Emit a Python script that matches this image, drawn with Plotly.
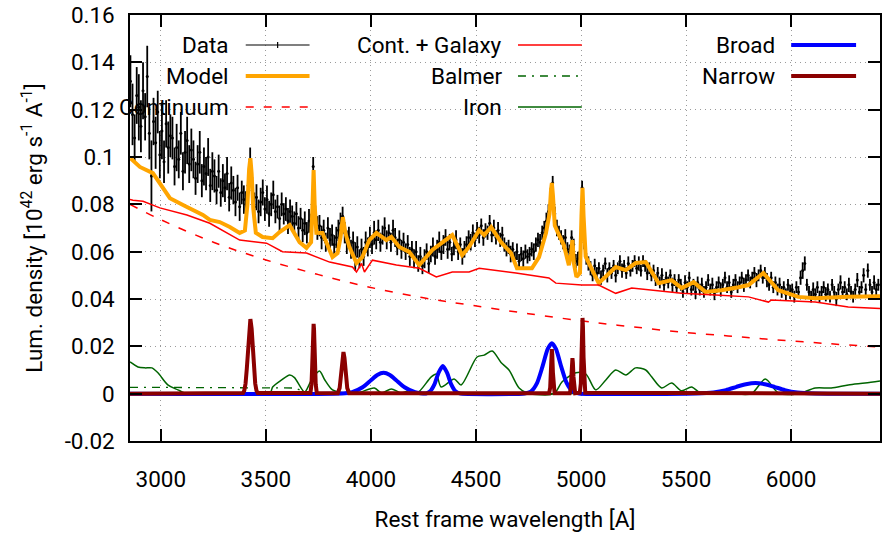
import plotly.graph_objects as go

# ---------------- data ----------------
data_wave = [
    2855, 2865, 2875, 2885, 2895, 2905, 2915, 2925, 2935, 2945,
    2955, 2965, 2975, 2985, 2995, 3005, 3015, 3025, 3035, 3045,
    3055, 3065, 3075, 3085, 3095, 3105, 3115, 3125, 3135, 3145,
    3155, 3165, 3175, 3185, 3195, 3205, 3215, 3225, 3235, 3245,
    3255, 3265, 3275, 3285, 3295, 3305, 3315, 3325, 3335, 3345,
    3355, 3365, 3375, 3385, 3395, 3405, 3415, 3425, 3435, 3445,
    3455, 3465, 3475, 3485, 3495, 3505, 3515, 3525, 3535, 3545,
    3555, 3565, 3575, 3585, 3595, 3605, 3615, 3625, 3635, 3645,
    3655, 3665, 3675, 3685, 3695, 3705, 3715, 3725, 3735, 3745,
    3755, 3765, 3775, 3785, 3795, 3805, 3815, 3825, 3835, 3845,
    3855, 3865, 3875, 3885, 3895, 3905, 3915, 3925, 3935, 3945,
    3955, 3965, 3975, 3985, 3995, 4005, 4015, 4025, 4035, 4045,
    4055, 4065, 4075, 4085, 4095, 4105, 4115, 4125, 4135, 4145,
    4155, 4165, 4175, 4185, 4195, 4205, 4215, 4225, 4235, 4245,
    4255, 4265, 4275, 4285, 4295, 4305, 4315, 4325, 4335, 4345,
    4355, 4365, 4375, 4385, 4395, 4405, 4415, 4425, 4435, 4445,
    4455, 4465, 4475, 4485, 4495, 4505, 4515, 4525, 4535, 4545,
    4555, 4565, 4575, 4585, 4595, 4605, 4615, 4625, 4635, 4645,
    4655, 4665, 4675, 4685, 4695, 4705, 4715, 4725, 4735, 4745,
    4755, 4765, 4775, 4785, 4795, 4805, 4815, 4825, 4835, 4845,
    4855, 4865, 4875, 4885, 4895, 4905, 4915, 4925, 4935, 4945,
    4955, 4965, 4975, 4985, 4995, 5005, 5015, 5025, 5035, 5045,
    5055, 5065, 5075, 5085, 5095, 5105, 5115, 5125, 5135, 5145,
    5155, 5165, 5175, 5185, 5195, 5205, 5215, 5225, 5235, 5245,
    5255, 5265, 5275, 5285, 5295, 5305, 5315, 5325, 5335, 5345,
    5355, 5365, 5375, 5385, 5395, 5405, 5415, 5425, 5435, 5445,
    5455, 5465, 5475, 5485, 5495, 5505, 5515, 5525, 5535, 5545,
    5555, 5565, 5575, 5585, 5595, 5605, 5615, 5625, 5635, 5645,
    5655, 5665, 5675, 5685, 5695, 5705, 5715, 5725, 5735, 5745,
    5755, 5765, 5775, 5785, 5795, 5805, 5815, 5825, 5835, 5845,
    5855, 5865, 5875, 5885, 5895, 5905, 5915, 5925, 5935, 5945,
    5955, 5965, 5975, 5985, 5995, 6005, 6015, 6025, 6035, 6045,
    6055, 6065, 6075, 6085, 6095, 6105, 6115, 6125, 6135, 6145,
    6155, 6165, 6175, 6185, 6195, 6205, 6215, 6225, 6235, 6245,
    6255, 6265, 6275, 6285, 6295, 6305, 6315, 6325, 6335, 6345,
    6355, 6365, 6375, 6385, 6395, 6405, 6415,
]
data_flux = [
    0.132, 0.118, 0.108, 0.126, 0.121, 0.113, 0.128, 0.117, 0.134, 0.110,
    0.092, 0.115, 0.106, 0.119, 0.101, 0.111, 0.098, 0.114, 0.104, 0.109,
    0.108, 0.096, 0.104, 0.099, 0.110, 0.094, 0.102, 0.107, 0.097, 0.103,
    0.099, 0.091, 0.097, 0.102, 0.090, 0.096, 0.093, 0.100, 0.088, 0.094,
    0.092, 0.086, 0.094, 0.085, 0.090, 0.087, 0.093, 0.083, 0.089, 0.086,
    0.081, 0.087, 0.079, 0.085, 0.082, 0.080, 0.088, 0.099, 0.086, 0.079,
    0.083, 0.077, 0.081, 0.085, 0.078, 0.082, 0.076, 0.080, 0.084, 0.077,
    0.079, 0.074, 0.080, 0.076, 0.078, 0.073, 0.077, 0.075, 0.072, 0.076,
    0.070, 0.074, 0.069, 0.072, 0.068, 0.073, 0.071, 0.096, 0.075, 0.070,
    0.071, 0.066, 0.069, 0.064, 0.070, 0.065, 0.067, 0.063, 0.066, 0.069,
    0.072, 0.075, 0.068, 0.064, 0.066, 0.061, 0.064, 0.058, 0.062, 0.057,
    0.061, 0.058, 0.064, 0.062, 0.066, 0.063, 0.068, 0.065, 0.069, 0.064,
    0.067, 0.070, 0.065, 0.068, 0.064, 0.069, 0.066, 0.062, 0.065, 0.061,
    0.064, 0.060, 0.063, 0.058, 0.061, 0.057, 0.060, 0.055, 0.058, 0.054,
    0.057, 0.060, 0.055, 0.059, 0.062, 0.058, 0.061, 0.064, 0.060, 0.063,
    0.066, 0.061, 0.064, 0.059, 0.062, 0.065, 0.060, 0.063, 0.058, 0.061,
    0.063, 0.066, 0.064, 0.068, 0.065, 0.069, 0.067, 0.071, 0.066, 0.069,
    0.068, 0.072, 0.067, 0.070, 0.066, 0.069, 0.065, 0.067, 0.063, 0.061,
    0.062, 0.059, 0.061, 0.057, 0.060, 0.056, 0.059, 0.057, 0.060, 0.058,
    0.059, 0.061, 0.060, 0.063, 0.065, 0.064, 0.068, 0.070, 0.073, 0.077,
    0.084, 0.089, 0.076, 0.070, 0.068, 0.066, 0.064, 0.066, 0.061, 0.060,
    0.066, 0.063, 0.056, 0.057, 0.060, 0.087, 0.064, 0.057, 0.055, 0.053,
    0.050, 0.054, 0.051, 0.053, 0.049, 0.052, 0.055, 0.050, 0.053, 0.051,
    0.054, 0.050, 0.053, 0.056, 0.052, 0.054, 0.051, 0.055, 0.052, 0.054,
    0.056, 0.053, 0.055, 0.052, 0.056, 0.054, 0.051, 0.053, 0.050, 0.052,
    0.048, 0.051, 0.047, 0.050, 0.046, 0.049, 0.047, 0.050, 0.046, 0.048,
    0.045, 0.048, 0.046, 0.043, 0.047, 0.045, 0.049, 0.044, 0.046, 0.043,
    0.047, 0.044, 0.046, 0.043, 0.045, 0.048, 0.044, 0.046, 0.042, 0.045,
    0.047, 0.044, 0.046, 0.049, 0.045, 0.047, 0.043, 0.046, 0.048, 0.045,
    0.047, 0.049, 0.046, 0.048, 0.050, 0.047, 0.049, 0.051, 0.048, 0.050,
    0.052, 0.049, 0.051, 0.048, 0.046, 0.049, 0.045, 0.047, 0.044, 0.046,
    0.043, 0.045, 0.042, 0.046, 0.043, 0.044, 0.041, 0.045, 0.043, 0.049,
    0.052, 0.055, 0.046, 0.043, 0.041, 0.044, 0.042, 0.045, 0.041, 0.043,
    0.045, 0.042, 0.044, 0.041, 0.046, 0.043, 0.040, 0.044, 0.047, 0.043,
    0.045, 0.042, 0.046, 0.043, 0.041, 0.044, 0.048, 0.043, 0.045, 0.050,
    0.044, 0.052, 0.046, 0.043, 0.047, 0.044, 0.046,
]
data_err = [
    0.011, 0.013, 0.010, 0.012, 0.014, 0.011, 0.012, 0.010, 0.013, 0.011,
    0.015, 0.010, 0.011, 0.009, 0.010, 0.012, 0.009, 0.010, 0.011, 0.009,
    0.009, 0.008, 0.010, 0.008, 0.009, 0.008, 0.009, 0.010, 0.008, 0.009,
    0.008, 0.007, 0.008, 0.009, 0.007, 0.008, 0.007, 0.008, 0.007, 0.008,
    0.007, 0.006, 0.007, 0.006, 0.007, 0.006, 0.007, 0.006, 0.007, 0.006,
    0.006, 0.0055, 0.006, 0.005, 0.006, 0.0055, 0.006, 0.005, 0.0055, 0.006,
    0.0055, 0.005, 0.006, 0.0055, 0.005, 0.006, 0.0055, 0.005, 0.006, 0.005,
    0.005, 0.0055, 0.005, 0.0045, 0.005, 0.0055, 0.005, 0.0045, 0.005, 0.005,
    0.005, 0.0045, 0.005, 0.005, 0.0045, 0.005, 0.005, 0.004, 0.0045, 0.005,
    0.0045, 0.005, 0.0045, 0.004, 0.0045, 0.005, 0.0045, 0.004, 0.0045, 0.0045,
    0.0045, 0.004, 0.0045, 0.005, 0.0045, 0.004, 0.0045, 0.006, 0.0045, 0.004,
    0.0045, 0.004, 0.0045, 0.004, 0.0045, 0.004, 0.005, 0.004, 0.0045, 0.004,
    0.004, 0.0045, 0.004, 0.0035, 0.004, 0.0045, 0.004, 0.0035, 0.004, 0.004,
    0.004, 0.0035, 0.004, 0.004, 0.0035, 0.004, 0.0045, 0.0035, 0.004, 0.0035,
    0.004, 0.0035, 0.004, 0.0035, 0.004, 0.0035, 0.004, 0.0045, 0.0035, 0.004,
    0.0035, 0.004, 0.0035, 0.003, 0.0035, 0.004, 0.0035, 0.003, 0.0035, 0.0035,
    0.0035, 0.003, 0.0035, 0.0035, 0.003, 0.0035, 0.0035, 0.003, 0.0035, 0.003,
    0.003, 0.0035, 0.003, 0.0035, 0.003, 0.0035, 0.003, 0.0035, 0.003, 0.003,
    0.003, 0.0035, 0.003, 0.003, 0.0035, 0.003, 0.003, 0.0035, 0.003, 0.003,
    0.003, 0.003, 0.0035, 0.003, 0.003, 0.0035, 0.003, 0.003, 0.0035, 0.003,
    0.003, 0.003, 0.003, 0.0035, 0.003, 0.003, 0.003, 0.0035, 0.003, 0.003,
    0.003, 0.0025, 0.003, 0.003, 0.0025, 0.003, 0.003, 0.0025, 0.003, 0.003,
    0.0025, 0.003, 0.0025, 0.0025, 0.003, 0.0025, 0.0025, 0.003, 0.0025, 0.0025,
    0.0025, 0.003, 0.0025, 0.0025, 0.003, 0.0025, 0.0025, 0.003, 0.0025, 0.0025,
    0.0025, 0.0025, 0.003, 0.0025, 0.0025, 0.0025, 0.003, 0.0025, 0.0025, 0.0025,
    0.0025, 0.0025, 0.0025, 0.003, 0.0025, 0.0025, 0.0025, 0.0025, 0.003, 0.0025,
    0.0025, 0.0025, 0.0025, 0.0025, 0.003, 0.0025, 0.0025, 0.0025, 0.0025, 0.003,
    0.0025, 0.0025, 0.003, 0.0025, 0.0025, 0.0025, 0.0025, 0.003, 0.0025, 0.0025,
    0.0025, 0.003, 0.0025, 0.0025, 0.0025, 0.003, 0.0025, 0.0025, 0.0025, 0.0025,
    0.0025, 0.0025, 0.003, 0.0025, 0.0025, 0.0025, 0.0025, 0.0025, 0.003, 0.0025,
    0.0025, 0.0025, 0.0025, 0.003, 0.0025, 0.0025, 0.0025, 0.0025, 0.0025, 0.003,
    0.0025, 0.0025, 0.0025, 0.0025, 0.003, 0.0025, 0.0025, 0.0025, 0.0025, 0.003,
    0.0035, 0.003, 0.0025, 0.0025, 0.0025, 0.003, 0.0025, 0.0025, 0.0025, 0.0025,
    0.0025, 0.003, 0.0025, 0.0025, 0.0025, 0.0025, 0.003, 0.0025, 0.003, 0.0025,
    0.0025, 0.0025, 0.003, 0.0025, 0.0025, 0.0025, 0.003, 0.0025, 0.0025, 0.003,
    0.0025, 0.003, 0.0025, 0.0025, 0.003, 0.0025, 0.0025,
]

model_wave = [2855, 2900, 2962, 3010, 3043, 3124, 3200, 3233, 3280, 3328,
              3375, 3400, 3412, 3420, 3426, 3432, 3440, 3452, 3484, 3532,
              3565, 3613, 3660, 3693, 3715, 3722, 3727, 3732, 3740, 3769,
              3817, 3841, 3855, 3866, 3878, 3897, 3931, 3959, 3992, 4026,
              4073, 4097, 4135, 4182, 4230, 4292, 4339, 4387, 4434, 4467,
              4515, 4539, 4572, 4619, 4667, 4695, 4766, 4800, 4833, 4850,
              4857, 4861, 4866, 4875, 4890, 4918, 4942, 4952, 4959, 4966,
              4978, 4995, 5002, 5007, 5012, 5022, 5037, 5084, 5165, 5213,
              5260, 5308, 5369, 5431, 5479, 5536, 5592, 5668, 5749, 5797,
              5868, 5939, 6034, 6115, 6272, 6423]
model_flux = [0.0995, 0.0958, 0.0932, 0.0873, 0.0826, 0.0789, 0.0755, 0.0734, 0.0725, 0.0704,
              0.0679, 0.0690, 0.0800, 0.0950, 0.0995, 0.0930, 0.0780, 0.0680, 0.0662, 0.0657,
              0.0683, 0.0712, 0.0640, 0.0616, 0.0640, 0.0800, 0.0945, 0.0800, 0.0680, 0.0679,
              0.0577, 0.0594, 0.0660, 0.0746, 0.0680, 0.0620, 0.0552, 0.0577, 0.0649, 0.0679,
              0.0649, 0.0662, 0.0620, 0.0599, 0.0543, 0.0607, 0.0636, 0.0670, 0.0585, 0.0620,
              0.0691, 0.0670, 0.0704, 0.0640, 0.0594, 0.0530, 0.0530, 0.0577, 0.0679, 0.0760,
              0.0860, 0.0890, 0.0840, 0.0710, 0.0680, 0.0628, 0.0543, 0.0590, 0.0649, 0.0550,
              0.0493, 0.0510, 0.0750, 0.0870, 0.0750, 0.0580, 0.0552, 0.0467, 0.0535, 0.0522,
              0.0552, 0.0556, 0.0467, 0.0480, 0.0446, 0.0471, 0.0430, 0.0437, 0.0450, 0.0459,
              0.0510, 0.0437, 0.0409, 0.0403, 0.0409, 0.0412]

cont_wave = [2853, 2995, 3250, 3504, 3750, 3993, 4250, 4467, 4750, 5070,
             5250, 5479, 5700, 5878, 6150, 6423]
cont_flux = [0.0800, 0.0737, 0.0640, 0.0564, 0.0503, 0.0450, 0.0405, 0.0375, 0.0338, 0.0300,
             0.0282, 0.0260, 0.0244, 0.0231, 0.0213, 0.0197]

gal_wave = [2853, 2867, 2915, 2995, 3124, 3233, 3375, 3503, 3579, 3693,
            3803, 3912, 3931, 3955, 3969, 4007, 4121, 4230, 4311, 4387,
            4467, 4515, 4690, 4847, 4880, 5004, 5084, 5165, 5241, 5322,
            5479, 5640, 5797, 5892, 5906, 6115, 6272, 6423]
gal_flux = [0.0820, 0.0817, 0.0813, 0.0785, 0.0755, 0.0720, 0.0649, 0.0636, 0.0600, 0.0594,
            0.0556, 0.0535, 0.0514, 0.0550, 0.0514, 0.0564, 0.0544, 0.0530, 0.0493, 0.0514,
            0.0514, 0.0530, 0.0510, 0.0489, 0.0467, 0.0459, 0.0459, 0.0424, 0.0446, 0.0438,
            0.0424, 0.0417, 0.0409, 0.0387, 0.0396, 0.0387, 0.0366, 0.0360]

balmer_wave = [2853, 3640, 3700, 6423]
balmer_flux = [0.0027, 0.0024, 0.0, 0.0]

iron_wave = [2853, 2891, 2924, 2957, 2986, 3033, 3081, 3114, 3200, 3518,
             3532, 3575, 3613, 3636, 3684, 3717, 3755, 3779, 3817, 3874,
             3936, 4016, 4050, 4097, 4144, 4192, 4220, 4287, 4311, 4334,
             4396, 4429, 4505, 4539, 4577, 4619, 4657, 4705, 4743, 4871,
             4909, 4975, 5023, 5070, 5118, 5165, 5213, 5260, 5308, 5336,
             5384, 5431, 5479, 5526, 5574, 5716, 5811, 5877, 5939, 6034,
             6115, 6191, 6272, 6352, 6423]
iron_flux = [0.0134, 0.0113, 0.0109, 0.0109, 0.0088, 0.0037, 0.0016, 0.0003, 0.0, 0.0,
             0.0028, 0.0058, 0.0079, 0.0068, 0.0007, 0.0058, 0.0096, 0.0060, 0.0016, 0.0003,
             0.0003, 0.0024, 0.0003, 0.0020, 0.0003, 0.0015, 0.0003, 0.0071, 0.0083, 0.0028,
             0.0062, 0.0037, 0.0155, 0.0163, 0.0180, 0.0132, 0.0100, 0.0024, 0.0003, 0.0,
             0.0049, 0.0088, 0.0083, 0.0016, 0.0058, 0.0100, 0.0079, 0.0109, 0.0100, 0.0071,
             0.0024, 0.0045, 0.0012, 0.0028, 0.0, 0.0, 0.0, 0.0062, 0.0003, 0.0,
             0.0024, 0.0024, 0.0037, 0.0045, 0.0054]

broad_wave = [2853, 3860, 3910, 3960, 4000, 4030, 4060, 4090, 4120, 4160, 4210, 4262,
              4282, 4302, 4322, 4342, 4362, 4382, 4402, 4422,
              4731, 4761, 4791, 4816, 4841, 4861, 4881, 4906, 4931, 4961, 4991,
              5545, 5630, 5690, 5740, 5785, 5830, 5875, 5920, 5970, 6030, 6115, 6423]
broad_flux = [0.0, 0.0001, 0.0006, 0.0027, 0.0057, 0.0079, 0.0088, 0.0079, 0.0057, 0.0027, 0.0006, 0.0001,
              0.0010, 0.0039, 0.0089, 0.0117, 0.0089, 0.0039, 0.0010, 0.0001,
              0.0001, 0.0009, 0.0046, 0.0113, 0.0188, 0.0213, 0.0188, 0.0113, 0.0046, 0.0009, 0.0001,
              0.0001, 0.0005, 0.0015, 0.0029, 0.0040, 0.0045, 0.0040, 0.0029, 0.0015, 0.0005, 0.0001, 0.0]

narrow_wave = [2853,
               3391, 3397, 3403, 3409, 3414, 3420, 3426, 3432, 3438, 3443, 3449, 3455, 3461,
               3712, 3717, 3720, 3723, 3725, 3727, 3729, 3731, 3734, 3737, 3742,
               3842, 3851, 3856, 3860, 3864, 3869, 3874, 3878, 3882, 3887, 3896,
               4848, 4853, 4856, 4859, 4861, 4863, 4866, 4869, 4874,
               4946, 4951, 4954, 4957, 4959, 4961, 4964, 4967, 4972,
               4994, 4999, 5002, 5005, 5007, 5009, 5012, 5015, 5020,
               6423]
narrow_flux = [0.0,
               0.0003, 0.0013, 0.0043, 0.0106, 0.0183, 0.0275, 0.0315, 0.0275, 0.0183, 0.0106, 0.0043, 0.0013, 0.0003,
               0.0003, 0.0040, 0.0110, 0.0214, 0.0272, 0.0295, 0.0272, 0.0214, 0.0110, 0.0040, 0.0003,
               0.0002, 0.0024, 0.0062, 0.0107, 0.0151, 0.0176, 0.0151, 0.0107, 0.0062, 0.0024, 0.0002,
               0.0002, 0.0025, 0.0090, 0.0165, 0.0188, 0.0165, 0.0090, 0.0025, 0.0002,
               0.0002, 0.0020, 0.0072, 0.0132, 0.0150, 0.0132, 0.0072, 0.0020, 0.0002,
               0.0004, 0.0043, 0.0154, 0.0282, 0.0320, 0.0282, 0.0154, 0.0043, 0.0004,
               0.0]

x_tick_vals = [3000, 3500, 4000, 4500, 5000, 5500, 6000]
x_tick_text = ["3000", "3500", "4000", "4500", "5000", "5500", "6000"]
y_tick_vals = [-0.02, 0, 0.02, 0.04, 0.06, 0.08, 0.1, 0.12, 0.14, 0.16]
y_tick_text = ["-0.02", "0", "0.02", "0.04", "0.06", "0.08", "0.1", "0.12", "0.14", "0.16"]

legend_labels = ["Data", "Model", "Continuum", "Cont. + Galaxy", "Balmer", "Iron", "Broad", "Narrow"]

# ---------------- styles ----------------
FONT = "Roboto"
FS = 22.5
ORANGE = "#ffa500"
RED = "#ff0000"
GREEN = "#006400"
BLUE = "#0000ff"
DRED = "#8b0000"

fig = go.Figure()

fig.add_trace(go.Scatter(
    x=data_wave, y=data_flux, mode="markers",
    marker=dict(color="black", size=3),
    error_y=dict(type="data", array=data_err, visible=True, color="black", thickness=1.8, width=0),
    showlegend=False, name=legend_labels[0]))
fig.add_trace(go.Scatter(x=model_wave, y=model_flux, mode="lines",
                         line=dict(color=ORANGE, width=4), showlegend=False, name=legend_labels[1]))
fig.add_trace(go.Scatter(x=cont_wave, y=cont_flux, mode="lines", line_shape="spline",
                         line=dict(color=RED, width=1.5, dash="8px,10px"), showlegend=False, name=legend_labels[2]))
fig.add_trace(go.Scatter(x=gal_wave, y=gal_flux, mode="lines",
                         line=dict(color=RED, width=1.5), showlegend=False, name=legend_labels[3]))
fig.add_trace(go.Scatter(x=balmer_wave, y=balmer_flux, mode="lines",
                         line=dict(color=GREEN, width=1.3, dash="8px,6px,2px,6px"), showlegend=False, name=legend_labels[4]))
fig.add_trace(go.Scatter(x=iron_wave, y=iron_flux, mode="lines", line_shape="spline",
                         line=dict(color=GREEN, width=1.5, smoothing=0.8), showlegend=False, name=legend_labels[5]))
fig.add_trace(go.Scatter(x=broad_wave, y=broad_flux, mode="lines", line_shape="spline",
                         line=dict(color=BLUE, width=4, smoothing=0.6), showlegend=False, name=legend_labels[6]))
fig.add_trace(go.Scatter(x=narrow_wave, y=narrow_flux, mode="lines",
                         line=dict(color=DRED, width=4), showlegend=False, name=legend_labels[7]))

# custom gnuplot-like key: right-aligned labels followed by line samples
key_cols_text_x = [0.1343, 0.4987, 0.8630]
key_cols_line_x = [(0.1543, 0.2394), (0.5173, 0.6024), (0.8816, 0.9681)]
key_rows_y = [0.9296, 0.8568, 0.7840]
key_styles = [
    dict(color="black", width=1.2),
    dict(color=ORANGE, width=4),
    dict(color=RED, width=1.5, dash="8px,10px"),
    dict(color=RED, width=1.5),
    dict(color=GREEN, width=1.3, dash="8px,6px,2px,6px"),
    dict(color=GREEN, width=1.5),
    dict(color=BLUE, width=4),
    dict(color=DRED, width=4),
]
key_slots = [(0, 0), (0, 1), (0, 2), (1, 0), (1, 1), (1, 2), (2, 0), (2, 1)]

shapes = []
annotations = []
for label, style, (c, r) in zip(legend_labels, key_styles, key_slots):
    annotations.append(dict(x=key_cols_text_x[c], y=key_rows_y[r], xref="paper", yref="paper",
                            text=label, showarrow=False, xanchor="right", yanchor="middle",
                            font=dict(family=FONT, size=FS, color="black")))
    x0, x1 = key_cols_line_x[c]
    shapes.append(dict(type="line", xref="paper", yref="paper", x0=x0, x1=x1,
                       y0=key_rows_y[r], y1=key_rows_y[r], line=style))
# errorbar tick in the Data sample
xm = (key_cols_line_x[0][0] + key_cols_line_x[0][1]) / 2
shapes.append(dict(type="line", xref="paper", yref="paper", x0=xm, x1=xm,
                   y0=key_rows_y[0] - 0.007, y1=key_rows_y[0] + 0.007,
                   line=dict(color="black", width=1.2)))
# gnuplot leaves the key area free of grid lines
shapes.append(dict(type="rect", xref="paper", yref="y", x0=0, x1=1, y0=0.1145, y1=0.16,
                   fillcolor="white", line=dict(width=0), layer="between"))

axis_common = dict(
    showline=True, linecolor="black", linewidth=1.5, mirror="ticks",
    ticks="inside", ticklen=12, tickwidth=1.5, tickcolor="black",
    showgrid=True, gridcolor="#9a9a9a", gridwidth=1, griddash="1px,4px",
    zeroline=False, tickfont=dict(family=FONT, size=FS, color="black"),
)

fig.update_layout(
    width=884, height=534,
    margin=dict(l=130, r=2, t=15, b=93),
    paper_bgcolor="white", plot_bgcolor="white",
    font=dict(family=FONT, size=FS, color="black"),
    showlegend=False,
    shapes=shapes, annotations=annotations,
    xaxis=dict(range=[2853, 6423], tickvals=x_tick_vals, ticktext=x_tick_text,
               ticklabelstandoff=17,
               title=dict(text="Rest frame wavelength [A]", standoff=20,
                          font=dict(family=FONT, size=FS)),
               **axis_common),
    yaxis=dict(range=[-0.02, 0.16], tickvals=y_tick_vals, ticktext=y_tick_text,
               ticklabelstandoff=9,
               title=dict(text="Lum. density [10<sup>42</sup> erg s<sup>-1</sup> A<sup>-1</sup>]",
                          standoff=16, font=dict(family=FONT, size=FS)),
               **axis_common),
)

fig.write_html("out.html")
